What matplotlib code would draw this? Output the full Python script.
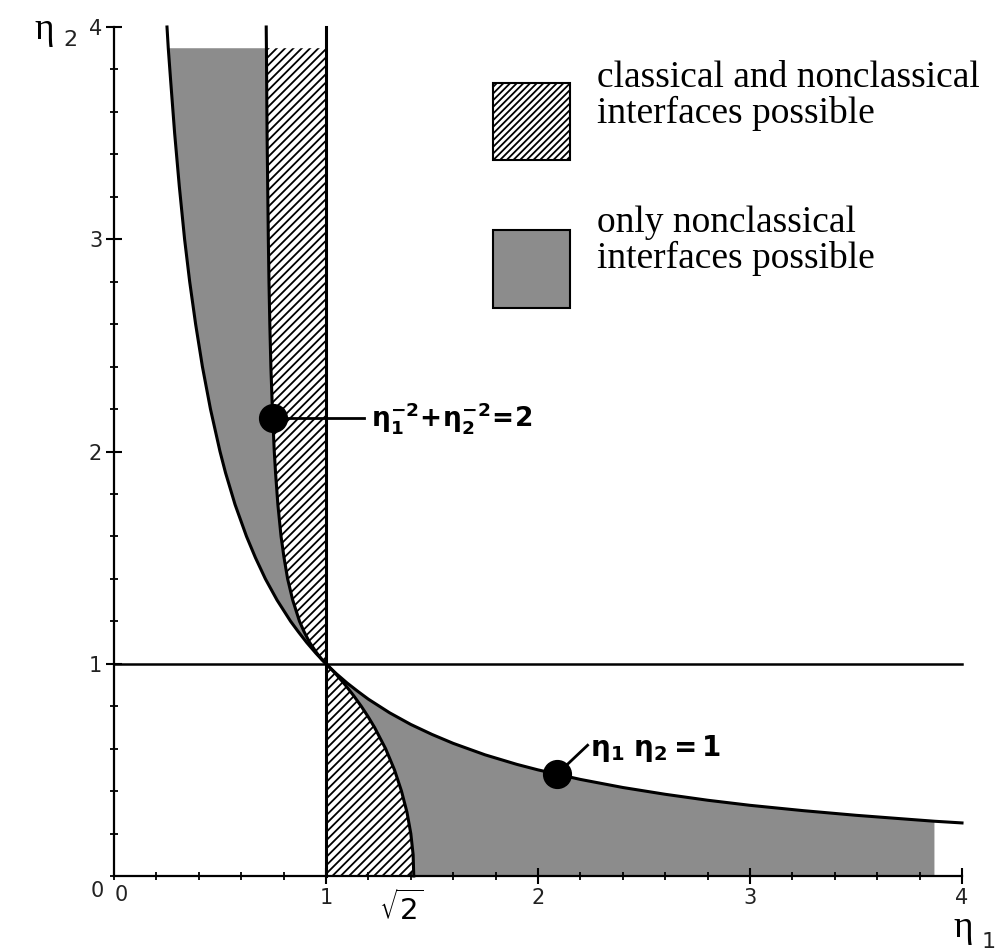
import matplotlib
matplotlib.use("Agg")
import matplotlib.pyplot as plt
from matplotlib.patches import Polygon, Rectangle
from matplotlib.ticker import MultipleLocator

# ---------------- data ----------------
# upper branches (eta2 >= 1)
upper_eta2 = [1.0, 1.02, 1.05, 1.1, 1.15, 1.2, 1.3, 1.4, 1.5, 1.6, 1.75, 1.9, 2.0,
              2.2, 2.4, 2.6, 2.8, 3.0, 3.25, 3.5, 3.75, 3.9, 4.0]
upper_hyp_eta1 = [1.0, 0.980, 0.952, 0.909, 0.870, 0.833, 0.769, 0.714, 0.667, 0.625,
                  0.571, 0.526, 0.5, 0.455, 0.417, 0.385, 0.357, 0.333, 0.308, 0.286,
                  0.267, 0.256, 0.25]
upper_curve_eta1 = [1.0, 0.981, 0.957, 0.923, 0.897, 0.875, 0.843, 0.819, 0.802, 0.788,
                    0.773, 0.762, 0.756, 0.747, 0.740, 0.735, 0.731, 0.728, 0.725, 0.722,
                    0.720, 0.719, 0.718]
# lower hyperbola branch (eta1 >= 1)
lower_eta1 = [1.0, 1.02, 1.05, 1.1, 1.15, 1.2, 1.3, 1.4, 1.5, 1.6, 1.75, 1.9, 2.0,
              2.2, 2.4, 2.6, 2.8, 3.0, 3.25, 3.5, 3.75, 3.87, 4.0]
lower_hyp_eta2 = [1.0, 0.980, 0.952, 0.909, 0.870, 0.833, 0.769, 0.714, 0.667, 0.625,
                  0.571, 0.526, 0.5, 0.455, 0.417, 0.385, 0.357, 0.333, 0.308, 0.286,
                  0.267, 0.258, 0.25]
# lower arc from (1,1) to (sqrt2, 0)
arc_eta2 = [1.0, 0.98, 0.95, 0.9, 0.85, 0.8, 0.75, 0.7, 0.6, 0.5, 0.4, 0.3, 0.2, 0.1, 0.0]
arc_eta1 = [1.0, 1.020, 1.048, 1.091, 1.130, 1.166, 1.199, 1.229, 1.281, 1.323, 1.356,
            1.382, 1.400, 1.411, 1.414]
fill_top = 3.9        # upper shaded regions end here
fill_right = 3.87     # lower shaded region ends here
dot_curve = (0.748, 2.157)
dot_hyp = (2.09, 0.48)
x_major = [1, 2, 3, 4]
y_major = [1, 2, 3, 4]
legend_labels = ["classical and nonclassical\ninterfaces possible",
                 "only nonclassical\ninterfaces possible"]

GRAY = "#8c8c8c"
plt.rcParams["hatch.linewidth"] = 1.3

W, H = 996, 951
fig = plt.figure(figsize=(W / 100, H / 100), dpi=100)
fig.patch.set_facecolor("white")
X0, X4, Y0, Y4 = 114, 962, 876, 27
ax = fig.add_axes([X0 / W, 1 - Y0 / H, (X4 - X0) / W, (Y0 - Y4) / H])
ax.set_xlim(0, 4)
ax.set_ylim(0, 4)
ax.patch.set_alpha(0)


def P(px, py):
    return px / W, 1 - py / H


# ---- filled regions ----
nt = upper_eta2.index(fill_top) + 1
ue2 = upper_eta2[:nt]
ax.fill_betweenx(ue2, upper_hyp_eta1[:nt], upper_curve_eta1[:nt],
                 facecolor=GRAY, edgecolor="none", linewidth=0, zorder=1)
ax.fill_betweenx(ue2, upper_curve_eta1[:nt], [1.0] * nt,
                 facecolor="white", edgecolor="black", hatch="////",
                 linewidth=0, zorder=1)

nr = lower_eta1.index(fill_right) + 1
poly_x = arc_eta1 + [fill_right] + lower_eta1[:nr][::-1]
poly_y = arc_eta2 + [0.0] + lower_hyp_eta2[:nr][::-1]
ax.add_patch(Polygon(list(zip(poly_x, poly_y)), closed=True,
                     facecolor=GRAY, edgecolor="none", linewidth=0, zorder=1))
hx = [1.0] + arc_eta1
hy = [0.0] + arc_eta2
ax.add_patch(Polygon(list(zip(hx, hy)), closed=True, facecolor="white",
                     edgecolor="black", hatch="////", linewidth=0, zorder=1))

# ---- boundary lines ----
lw = 2.2
ax.plot(upper_hyp_eta1, upper_eta2, color="black", lw=lw, zorder=3, clip_on=False)
ax.plot(upper_curve_eta1, upper_eta2, color="black", lw=lw, zorder=3, clip_on=False)
ax.plot(lower_eta1, lower_hyp_eta2, color="black", lw=lw, zorder=3, clip_on=False)
ax.plot(arc_eta1, arc_eta2, color="black", lw=lw, zorder=3, clip_on=False)
ax.plot([1, 1], [0, 4], color="black", lw=2.2, zorder=3, clip_on=False)
ax.plot([0, 4], [1, 1], color="black", lw=1.8, zorder=3, clip_on=False)

# ---- markers and leader lines ----
ax.plot([dot_curve[0], 1.18], [dot_curve[1], dot_curve[1]], color="black", lw=2.0, zorder=4)
ax.plot(*dot_curve, "o", color="black", ms=20, zorder=5)
ax.plot([dot_hyp[0], 2.234], [dot_hyp[1], 0.616], color="black", lw=2.0, zorder=4)
ax.plot(*dot_hyp, "o", color="black", ms=20, zorder=5)

ax.text(1.21, dot_curve[1], r"$\mathbf{\eta_1^{-2}\!+\!\eta_2^{-2}\!=\!2}$",
        fontsize=19, va="center", ha="left")
ax.text(2.245, 0.60, r"$\mathbf{\eta_1\ \eta_2=1}$",
        fontsize=20, va="center", ha="left")

# ---- axes styling ----
for s in ["top", "right"]:
    ax.spines[s].set_visible(False)
for s in ["left", "bottom"]:
    ax.spines[s].set_linewidth(1.6)
    ax.spines[s].set_zorder(6)
ax.set_xticks(x_major)
ax.set_yticks(y_major)
ax.set_xticklabels([str(v) for v in x_major])
ax.set_yticklabels([str(v) for v in y_major])
ax.xaxis.set_minor_locator(MultipleLocator(0.2))
ax.yaxis.set_minor_locator(MultipleLocator(0.2))
ax.tick_params(which="major", direction="inout", length=11, width=1.5,
               labelsize=15, pad=3, colors="black")
ax.tick_params(which="minor", direction="inout", length=6, width=1.3)
for lab in ax.get_xticklabels() + ax.get_yticklabels():
    lab.set_fontfamily("DejaVu Sans")
    lab.set_color("#222222")

# zeros and sqrt2
fig.text(*P(121, 895), "0", fontsize=15, ha="center", va="center", color="#222222")
fig.text(*P(97, 891), "0", fontsize=15, ha="center", va="center", color="#222222")
fig.text(*P(401, 908), r"$\sqrt{2}$", fontsize=21, ha="center", va="center")

# axis labels
fig.text(*P(44, 30), "η", fontsize=27, family="Liberation Serif", ha="center", va="center")
fig.text(*P(70, 40), "2", fontsize=16, ha="center", va="center", color="#222222")
fig.text(*P(963, 928), "η", fontsize=27, family="Liberation Serif", ha="center", va="center")
fig.text(*P(989, 942), "1", fontsize=16, ha="center", va="center", color="#222222")

# ---- legend ----
bx0, bx1 = 493, 570
boxes = [(83, 160, dict(facecolor="white", edgecolor="black", hatch="/////")),
         (230, 308, dict(facecolor=GRAY, edgecolor="black"))]
for (ty, by, style), label in zip(boxes, legend_labels):
    x, y = P(bx0, by)
    r = Rectangle((x, y), (bx1 - bx0) / W, (by - ty) / H, transform=fig.transFigure,
                  linewidth=1.5, **style)
    fig.add_artist(r)
fig.text(*P(597, 123), legend_labels[0], fontsize=27, family="Liberation Serif",
         ha="left", va="baseline", linespacing=1.05)
fig.text(*P(597, 268), legend_labels[1], fontsize=27, family="Liberation Serif",
         ha="left", va="baseline", linespacing=1.05)

fig.savefig("out.png", dpi=100, facecolor="white")
